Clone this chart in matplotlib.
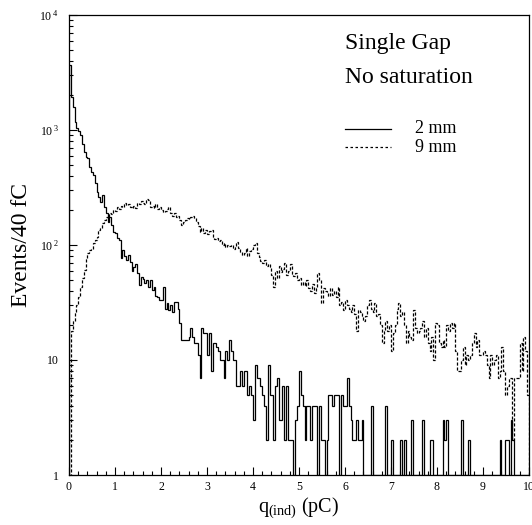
import numpy as np
import matplotlib
matplotlib.use("Agg")
import matplotlib.pyplot as plt
from matplotlib.ticker import MultipleLocator, LogLocator, FuncFormatter, NullFormatter
from matplotlib.lines import Line2D

plt.rcParams['font.family'] = ['Liberation Serif', 'DejaVu Serif']
plt.rcParams['mathtext.fontset'] = 'custom'
plt.rcParams['mathtext.rm'] = 'Liberation Serif'
plt.rcParams['mathtext.it'] = 'Liberation Serif:italic'

# ---- data: events per 40 fC bin, 0..10 pC ----
x_min, x_max = 0.0, 10.0
bin_width = 0.04

counts_2mm = [
    3700, 1950, 1580, 1170, 1040, 980, 900, 760, 650, 585,
    570, 480, 435, 405, 345, 290, 260, 236, 270, 214,
    190, 160, 175, 150, 130, 127, 115, 110, 77, 91,
    80, 74, 82, 71, 60, 65, 69, 57, 45, 53,
    51, 47, 50, 43, 50, 41, 43, 36, 35, 33,
    33, 43, 28, 31, 27, 30, 26, 32, 32, 28,
    21, 15, 15, 15, 15, 16, 19, 16, 14, 14,
    11, 7, 19, 17, 17, 11, 17, 8, 14, 14,
    13, 12, 10, 10, 7, 12, 10, 15, 12, 10,
    10, 6, 6, 8, 6, 8, 8, 5, 6, 5,
    3, 9, 7, 7, 6, 5, 4, 2, 9, 5,
    5, 2, 6, 7, 3, 3, 6, 2, 6, 2,
    2, 2, 1, 3, 4, 8, 5, 4, 2, 4,
    4, 2, 4, 4, 4, 1, 4, 2, 2, 1,
    2, 5, 5, 4, 5, 5, 5, 1, 5, 4,
    4, 7, 4, 3, 2, 2, 3, 2, 2, 3,
    1, 1, 1, 1, 4, 1, 1, 1, 1, 1,
    1, 1, 4, 1, 1, 2, 1, 1, 1, 1,
    2, 1, 2, 1, 1, 1, 3, 1, 1, 1,
    1, 1, 3, 1, 1, 1, 2, 2, 1, 1,
    1, 1, 1, 3, 2, 3, 1, 1, 1, 1,
    1, 1, 1, 3, 1, 1, 1, 2, 1, 1,
    1, 1, 1, 1, 1, 1, 1, 1, 1, 1,
    1, 1, 1, 1, 2, 1, 1, 2, 2, 1,
    3, 2, 1, 1, 1, 1, 1, 1, 1, 1,
]

counts_9mm = [
    1, 18, 22, 26, 30, 35, 43, 52, 61, 75,
    85, 90, 92, 104, 110, 117, 135, 140, 155, 165,
    175, 172, 190, 185, 200, 196, 215, 205, 218, 212,
    230, 222, 228, 215, 210, 218, 208, 230, 225, 240,
    232, 228, 250, 245, 215, 220, 210, 225, 205, 212,
    200, 195, 198, 205, 215, 190, 180, 188, 175, 178,
    165, 150, 158, 165, 170, 168, 175, 180, 170, 160,
    145, 130, 140, 128, 135, 125, 133, 135, 118, 112,
    115, 108, 110, 100, 105, 96, 100, 98, 100, 92,
    98, 107, 95, 87, 82, 85, 95, 80, 88, 92,
    100, 104, 85, 78, 72, 70, 74, 66, 68, 65,
    55, 43, 60, 52, 66, 58, 62, 70, 55, 60,
    68, 56, 54, 57, 50, 52, 45, 48, 44, 50,
    42, 40, 46, 38, 42, 57, 50, 31, 42, 40,
    38, 36, 42, 37, 40, 35, 43, 30, 32, 27,
    33, 30, 28, 26, 30, 25, 18, 27, 26, 24,
    22, 24, 30, 33, 28, 26, 31, 24, 25, 20,
    14, 18, 22, 18, 20, 12, 17, 20, 28, 31,
    24, 26, 20, 14, 18, 16, 15, 27, 19, 17,
    18, 19, 22, 16, 19, 14, 12, 16, 10, 21,
    20, 14, 13, 15, 13, 20, 18, 21, 19, 21,
    12, 8, 8, 10, 13, 9, 11, 10, 11, 14,
    17, 13, 15, 11, 11, 12, 11, 9, 7, 11,
    9, 10, 11, 7, 8, 13, 8, 5, 6, 7,
    7, 2, 7, 7, 7, 14, 8, 16, 12, 5,
]

series_labels = ["2 mm", "9 mm"]
title_lines = ["Single Gap", "No saturation"]

edges = np.arange(len(counts_2mm) + 1) * bin_width + x_min

fig = plt.figure(figsize=(5.32, 5.25), dpi=100)
ax = fig.add_axes([69 / 532, 1 - 475 / 525, 460 / 532, 460 / 525])

ax.stairs(counts_2mm, edges, baseline=1, color='black', linewidth=0.9)
ax.stairs(counts_9mm, edges, baseline=1, color='black', linewidth=0.9,
          linestyle=(0, (2.5, 1.5)))

ax.set_yscale('log')
ax.set_xlim(x_min, x_max)
ax.set_ylim(1, 1e4)

ax.xaxis.set_major_locator(MultipleLocator(1))
ax.xaxis.set_minor_locator(MultipleLocator(0.2))
ax.yaxis.set_major_locator(LogLocator(base=10))
ax.yaxis.set_minor_locator(LogLocator(base=10, subs=np.arange(2, 10)))
ax.yaxis.set_minor_formatter(NullFormatter())


def yfmt(v, pos):
    e = int(round(np.log10(v)))
    if e == 0:
        return '1'
    if e == 1:
        return '10'
    return r'$\mathrm{10^{\ %d}}$' % e


ax.yaxis.set_major_formatter(FuncFormatter(yfmt))
ax.xaxis.set_major_formatter(FuncFormatter(lambda v, p: '%d' % v))

ax.tick_params(which='both', direction='in', top=False, right=False,
               labelsize=8.5, width=0.8)
ax.tick_params(which='major', length=6)
ax.tick_params(which='minor', length=3)
ax.tick_params(axis='y', pad=7)
ax.tick_params(axis='x', pad=4)
for s in ax.spines.values():
    s.set_linewidth(0.9)

ax.set_xlabel(r'$\mathrm{q_{(ind)}}$ (pC)', fontsize=14.5, labelpad=2)
ax.set_ylabel('Events/40 fC', fontsize=17, labelpad=5)

ax.text(0.60, 0.926, title_lines[0], transform=ax.transAxes,
        fontsize=17, va='baseline', ha='left')
ax.text(0.60, 0.852, title_lines[1], transform=ax.transAxes,
        fontsize=17, va='baseline', ha='left')

ax.add_line(Line2D([0.60, 0.70], [0.752, 0.752], transform=ax.transAxes,
                   color='black', linewidth=0.9))
ax.add_line(Line2D([0.60, 0.70], [0.713, 0.713], transform=ax.transAxes,
                   color='black', linewidth=0.9, linestyle=(0, (2.0, 2.0))))
ax.text(0.752, 0.7435, series_labels[0], transform=ax.transAxes,
        fontsize=13, va='baseline', ha='left')
ax.text(0.752, 0.702, series_labels[1], transform=ax.transAxes,
        fontsize=13, va='baseline', ha='left')

fig.savefig('out.png', dpi=100)
